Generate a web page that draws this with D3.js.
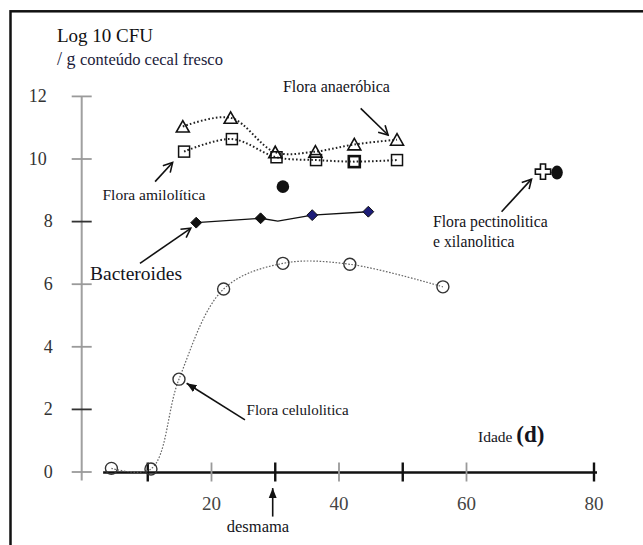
<!DOCTYPE html>
<html>
<head>
<meta charset="utf-8">
<script src="https://cdn.jsdelivr.net/npm/d3@7/dist/d3.min.js"></script>
<style>
  html, body { margin: 0; padding: 0; background: #fff; }
  svg { display: block; }
  svg text { font-family: "Liberation Serif", "Times New Roman", serif; }
</style>
</head>
<body>
<svg id="chart" width="643" height="545"></svg>
<script>
// Caecal flora counts (log10 CFU / g fresh caecal content) by age in days
const anaerobDays = [15.5, 23, 30, 36.3, 42.4, 49.1];
const anaerobLog  = [11.02, 11.3, 10.2, 10.22, 10.45, 10.6];

const amiloDays = [15.7, 23.2, 30.2, 36.4, 42.4, 49.1];
const amiloLog  = [10.22, 10.62, 10.04, 9.95, 9.9, 9.95];

const celuloDays = [4.3, 10.5, 14.9, 21.9, 31.2, 41.7, 56.3];
const celuloLog  = [0.1, 0.08, 2.95, 5.83, 6.65, 6.62, 5.9];

const bactDays   = [17.6, 27.7, 30.4, 35.8, 44.6];
const bactLog    = [7.95, 8.09, 8.0, 8.19, 8.3];
const bactMarked = [true, true, false, true, true];

const singleDays = [31.2];
const singleLog  = [9.1];

const pectinDays = [72.0];
const pectinLog  = [9.58];
const xilanDays  = [74.2];
const xilanLog   = [9.55];

const yTicks = [0, 2, 4, 6, 8, 10, 12];
const xTickLabels = [20, 40, 60, 80];
const xMinorTicks = [10, 30, 50];
const weaningDay = 29.6;

const SERIF = "Liberation Serif, Times New Roman, serif";
const svg = d3.select("#chart");

const x = d3.scaleLinear().domain([0, 80]).range([84, 594]);
const y = d3.scaleLinear().domain([0, 12]).range([471.5, 95.9]);

// outer frame
svg.append("rect")
  .attr("x", 10.5).attr("y", 11.3)
  .attr("width", 700).attr("height", 600)
  .attr("fill", "none").attr("stroke", "#111").attr("stroke-width", 2.5);

// arrow heads
const defs = svg.append("defs");
defs.append("marker")
  .attr("id", "openHead").attr("viewBox", "-10 -6 12 12")
  .attr("refX", 0).attr("refY", 0)
  .attr("markerWidth", 12).attr("markerHeight", 12)
  .attr("markerUnits", "userSpaceOnUse").attr("orient", "auto")
  .append("path").attr("d", "M-9,-5 L0,0 L-9,5")
  .attr("fill", "none").attr("stroke", "#111").attr("stroke-width", 1.6);
defs.append("marker")
  .attr("id", "solidHead").attr("viewBox", "-10 -5 11 10")
  .attr("refX", 0).attr("refY", 0)
  .attr("markerWidth", 11).attr("markerHeight", 10)
  .attr("markerUnits", "userSpaceOnUse").attr("orient", "auto")
  .append("path").attr("d", "M-10,-4 L0,0 L-10,4 Z").attr("fill", "#111");

// y axis
const yAxisX = 81.7;
svg.append("line")
  .attr("x1", yAxisX).attr("x2", yAxisX)
  .attr("y1", y(12)).attr("y2", y(0) + 9)
  .attr("stroke", "#a0a0a0").attr("stroke-width", 2);

const yAxis = svg.append("g")
  .attr("transform", `translate(${yAxisX + 10},0)`)
  .call(d3.axisLeft(y).tickValues(yTicks).tickSize(20).tickPadding(19).tickFormat(d3.format("d")))
  .attr("font-family", SERIF);
yAxis.select(".domain").remove();
yAxis.selectAll(".tick line")
  .attr("stroke", d => (d === 2 || d === 8) ? "#333" : "#9a9a9a")
  .attr("stroke-width", 1.8);
yAxis.selectAll(".tick text")
  .attr("font-family", SERIF)
  .attr("font-size", 18).attr("fill", "#333")
  .attr("dx", d => String(d).length > 1 ? -6 : 0);

// x axis
const axisY = y(0) + 1;
svg.append("line")
  .attr("x1", x(3)).attr("x2", x(80) + 3)
  .attr("y1", axisY).attr("y2", axisY)
  .attr("stroke", "#111").attr("stroke-width", 2.5);

svg.append("g").selectAll("line")
  .data(xTickLabels.filter(d => d < 80))
  .join("line")
  .attr("x1", d => x(d)).attr("x2", d => x(d))
  .attr("y1", axisY - 10).attr("y2", axisY + 9)
  .attr("stroke", "#9a9a9a").attr("stroke-width", 1.8);

svg.append("g").selectAll("line")
  .data(xMinorTicks.concat([80]))
  .join("line")
  .attr("x1", d => x(d)).attr("x2", d => x(d))
  .attr("y1", axisY - 10).attr("y2", axisY + 9)
  .attr("stroke", "#111").attr("stroke-width", 2.4);

svg.append("g").selectAll("text")
  .data(xTickLabels)
  .join("text")
  .attr("x", d => x(d)).attr("y", 510)
  .attr("text-anchor", "middle")
  .attr("font-family", SERIF)
  .attr("font-size", 19).attr("fill", "#444")
  .text(d => d);

// curves
const smooth = d3.line().x(d => x(d[0])).y(d => y(d[1])).curve(d3.curveCatmullRom.alpha(0.5));
const straight = d3.line().x(d => x(d[0])).y(d => y(d[1]));

const zipPts = (a, b) => a.map((d, i) => [d, b[i]]);
const anaerob = zipPts(anaerobDays, anaerobLog);
const amilo = zipPts(amiloDays, amiloLog);
const celulo = zipPts(celuloDays, celuloLog);
const bact = zipPts(bactDays, bactLog);

svg.append("path").attr("d", smooth(celulo))
  .attr("fill", "none").attr("stroke", "#666")
  .attr("stroke-width", 1.2).attr("stroke-dasharray", "1.6 1.6");

svg.append("path").attr("d", smooth(anaerob))
  .attr("fill", "none").attr("stroke", "#222")
  .attr("stroke-width", 2).attr("stroke-dasharray", "1.6 2.2");

svg.append("path").attr("d", smooth(amilo))
  .attr("fill", "none").attr("stroke", "#222")
  .attr("stroke-width", 2).attr("stroke-dasharray", "1.6 2.2");

svg.append("path").attr("d", straight(bact))
  .attr("fill", "none").attr("stroke", "#111").attr("stroke-width", 1.4);

// markers
svg.append("g").selectAll("circle")
  .data(celulo).join("circle")
  .attr("cx", d => x(d[0])).attr("cy", d => y(d[1])).attr("r", 6)
  .attr("fill", "none").attr("stroke", "#333").attr("stroke-width", 1.4);

svg.append("g").selectAll("path")
  .data(anaerob).join("path")
  .attr("transform", d => `translate(${x(d[0])},${y(d[1])})`)
  .attr("d", "M0,-6 L6.5,5.5 L-6.5,5.5 Z")
  .attr("fill", "none").attr("stroke", "#111").attr("stroke-width", 1.6);

svg.append("g").selectAll("rect")
  .data(amilo).join("rect")
  .attr("x", d => x(d[0]) - 5.5).attr("y", d => y(d[1]) - 5.5)
  .attr("width", 11).attr("height", 11)
  .attr("fill", "none").attr("stroke", "#111")
  .attr("stroke-width", (d, i) => i === 4 ? 2.6 : 1.5);

const diamond = d3.symbol().type(d3.symbolDiamond2).size(75);
svg.append("g").selectAll("path")
  .data(bact.filter((d, i) => bactMarked[i])).join("path")
  .attr("transform", d => `translate(${x(d[0])},${y(d[1])})`)
  .attr("d", diamond)
  .attr("fill", d => d[0] > weaningDay ? "#1c1c78" : "#111")
  .attr("stroke", "#111").attr("stroke-width", 1);

svg.append("g").selectAll("circle")
  .data(zipPts(singleDays, singleLog)).join("circle")
  .attr("cx", d => x(d[0])).attr("cy", d => y(d[1])).attr("r", 6.3)
  .attr("fill", "#111");

svg.append("g").selectAll("path")
  .data(zipPts(pectinDays, pectinLog)).join("path")
  .attr("transform", d => `translate(${x(d[0])},${y(d[1])})`)
  .attr("d", d3.symbol().type(d3.symbolCross).size(130))
  .attr("fill", "#fff").attr("stroke", "#111").attr("stroke-width", 1.6);

svg.append("g").selectAll("ellipse")
  .data(zipPts(xilanDays, xilanLog)).join("ellipse")
  .attr("cx", d => x(d[0])).attr("cy", d => y(d[1]))
  .attr("rx", 5.8).attr("ry", 7)
  .attr("fill", "#111");

// annotation arrows (data coordinates)
const arrows = [
  { from: [43.4, 11.6], to: [47.7, 10.75], head: "openHead" },
  { from: [11.15, 9.26], to: [13.9, 9.87], head: "openHead" },
  { from: [8.78, 6.65], to: [16.74, 7.77], head: "openHead" },
  { from: [65.5, 8.3], to: [70.2, 9.34], head: "openHead" },
  { from: [25.25, 1.65], to: [16.1, 2.82], head: "solidHead" },
  { from: [weaningDay, -1.44], to: [weaningDay, -0.53], head: "solidHead" }
];
svg.append("g").selectAll("line")
  .data(arrows).join("line")
  .attr("x1", d => x(d.from[0])).attr("y1", d => y(d.from[1]))
  .attr("x2", d => x(d.to[0])).attr("y2", d => y(d.to[1]))
  .attr("stroke", "#111").attr("stroke-width", 1.6)
  .attr("marker-end", d => `url(#${d.head})`);

// annotation labels
const labels = [
  { text: "Flora anaeróbica", at: [31.2, 12.14], size: 16 },
  { text: "Flora amilolítica", at: [2.9, 8.67], size: 15.5 },
  { text: "Bacteroides", at: [0.94, 6.12], size: 19.5 },
  { text: "Flora pectinolitica", at: [54.75, 7.81], size: 15.7 },
  { text: "e xilanolitica", at: [54.75, 7.18], size: 15.7 },
  { text: "Flora celulolitica", at: [25.5, 1.8], size: 15 },
  { text: "desmama", at: [22.4, -1.92], size: 16.5 }
];
svg.append("g").selectAll("text")
  .data(labels).join("text")
  .attr("x", d => x(d.at[0])).attr("y", d => y(d.at[1]))
  .attr("font-family", SERIF)
  .attr("font-size", d => d.size).attr("fill", "#141420")
  .text(d => d.text);

// x axis title
const xt = svg.append("text")
  .attr("x", x(61.8)).attr("y", y(0.94)).attr("fill", "#141420")
  .attr("font-family", SERIF);
xt.append("tspan").attr("font-size", 15.5).text("Idade ");
xt.append("tspan").attr("font-size", 23).attr("font-weight", "bold").text("(d)");

// y axis title
svg.append("text")
  .attr("x", 57).attr("y", 42).attr("font-size", 19).attr("fill", "#111")
  .attr("font-family", SERIF)
  .text("Log 10 CFU");
const yt = svg.append("text").attr("x", 57).attr("y", 65).attr("fill", "#1b1b3a")
  .attr("font-family", SERIF);
yt.append("tspan").attr("font-size", 18).text("/ g  ");
yt.append("tspan").attr("font-size", 16.5).text("conteúdo cecal fresco");
</script>
</body>
</html>
